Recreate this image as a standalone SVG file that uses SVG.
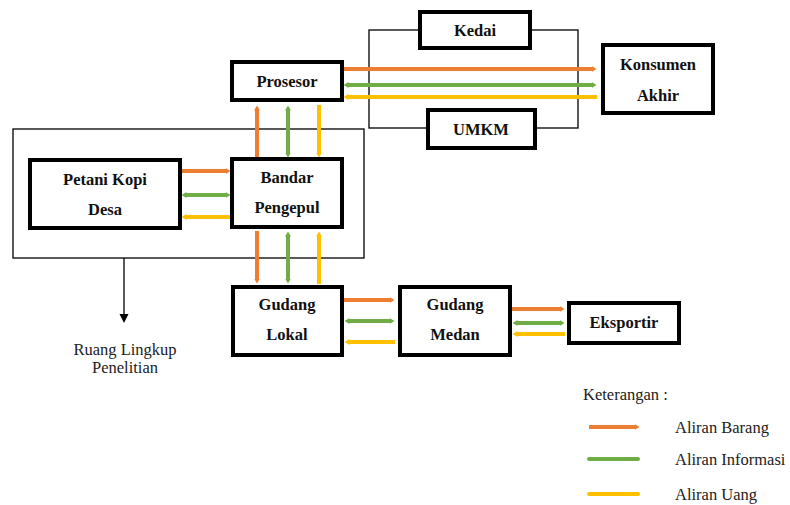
<svg xmlns="http://www.w3.org/2000/svg" width="790" height="505" viewBox="0 0 790 505">
<style>
.box{fill:#fff;stroke:#000;stroke-width:4}
.lbl{font-family:"Liberation Serif","Times New Roman",serif;font-weight:bold;font-size:16.5px;text-anchor:middle;fill:#111}
.txt{font-family:"Liberation Serif","Times New Roman",serif;font-size:16.5px;fill:#222}
.o{stroke:#ED7D31;stroke-width:4;fill:none}
.g{stroke:#70AD47;stroke-width:4;fill:none}
.y{stroke:#FFC000;stroke-width:4;fill:none}
.thin{fill:none;stroke:#000;stroke-width:1.3}
</style>
<defs>
<marker id="ao" markerUnits="userSpaceOnUse" markerWidth="6" markerHeight="6" refX="0.5" refY="3" orient="auto-start-reverse"><path d="M0,0 L5,3 L0,6 z" fill="#ED7D31"/></marker>
<marker id="ag" markerUnits="userSpaceOnUse" markerWidth="6" markerHeight="6" refX="0.5" refY="3" orient="auto-start-reverse"><path d="M0,0 L5,3 L0,6 z" fill="#70AD47"/></marker>
<marker id="ay" markerUnits="userSpaceOnUse" markerWidth="6" markerHeight="6" refX="0.5" refY="3" orient="auto-start-reverse"><path d="M0,0 L5,3 L0,6 z" fill="#FFC000"/></marker>
<marker id="ak" markerUnits="userSpaceOnUse" markerWidth="10" markerHeight="10" refX="1" refY="4.5" orient="auto"><path d="M0,0 L9,4.5 L0,9 z" fill="#000"/></marker>
</defs>

<g id="scope">
<rect class="thin" x="13" y="129" width="351" height="129"/>
<line class="thin" x1="124" y1="258" x2="124" y2="315" marker-end="url(#ak)"/>
<text class="txt" x="125" y="355" text-anchor="middle">Ruang Lingkup</text>
<text class="txt" x="125" y="373" text-anchor="middle">Penelitian</text>
</g>

<g id="bracket">
<rect class="thin" x="369" y="30" width="209" height="98" stroke-width="1.5"/>
</g>

<g id="connectors">
<line class="o" x1="343" y1="69" x2="592" y2="69" marker-end="url(#ao)"/>
<line class="g" x1="348" y1="85" x2="592" y2="85" marker-start="url(#ag)" marker-end="url(#ag)"/>
<line class="y" x1="348" y1="97" x2="597" y2="97" marker-start="url(#ay)"/>

<line class="o" x1="181" y1="171" x2="226" y2="171" marker-end="url(#ao)"/>
<line class="g" x1="186" y1="195" x2="226" y2="195" marker-start="url(#ag)" marker-end="url(#ag)"/>
<line class="y" x1="186" y1="217" x2="231" y2="217" marker-start="url(#ay)"/>

<line class="o" x1="257" y1="158" x2="257" y2="110" marker-end="url(#ao)"/>
<line class="g" x1="288" y1="110" x2="288" y2="153" marker-start="url(#ag)" marker-end="url(#ag)"/>
<line class="y" x1="319" y1="105" x2="319" y2="153" marker-end="url(#ay)"/>

<line class="o" x1="257" y1="231" x2="257" y2="279" marker-end="url(#ao)"/>
<line class="g" x1="288" y1="236" x2="288" y2="279" marker-start="url(#ag)" marker-end="url(#ag)"/>
<line class="y" x1="319" y1="284" x2="319" y2="236" marker-end="url(#ay)"/>

<line class="o" x1="344" y1="300" x2="390" y2="300" marker-end="url(#ao)"/>
<line class="g" x1="349" y1="321" x2="390" y2="321" marker-start="url(#ag)" marker-end="url(#ag)"/>
<line class="y" x1="349" y1="342" x2="395" y2="342" marker-start="url(#ay)"/>

<line class="o" x1="512" y1="309" x2="560" y2="309" marker-end="url(#ao)"/>
<line class="g" x1="517" y1="323" x2="560" y2="323" marker-start="url(#ag)" marker-end="url(#ag)"/>
<line class="y" x1="517" y1="334" x2="565" y2="334" marker-start="url(#ay)"/>
</g>

<g id="kedai"><rect class="box" x="420" y="12" width="110" height="36"/><text class="lbl" x="475" y="36">Kedai</text></g>
<g id="umkm"><rect class="box" x="428" y="110" width="107" height="38"/><text class="lbl" x="481" y="135">UMKM</text></g>
<g id="prosesor"><rect class="box" x="232" y="62" width="110" height="38"/><text class="lbl" x="287" y="87">Prosesor</text></g>
<g id="konsumen"><rect class="box" x="603" y="45" width="110" height="68"/><text class="lbl" x="658" y="70">Konsumen</text><text class="lbl" x="658" y="101">Akhir</text></g>
<g id="petani"><rect class="box" x="30" y="160" width="150" height="68"/><text class="lbl" x="105" y="185">Petani Kopi</text><text class="lbl" x="105" y="215">Desa</text></g>
<g id="bandar"><rect class="box" x="232" y="159" width="110" height="68"/><text class="lbl" x="287" y="183">Bandar</text><text class="lbl" x="287" y="213">Pengepul</text></g>
<g id="gudang-lokal"><rect class="box" x="233" y="287" width="109" height="68"/><text class="lbl" x="287" y="310">Gudang</text><text class="lbl" x="287" y="340">Lokal</text></g>
<g id="gudang-medan"><rect class="box" x="400" y="287" width="110" height="68"/><text class="lbl" x="455" y="310">Gudang</text><text class="lbl" x="455" y="340">Medan</text></g>
<g id="eksportir"><rect class="box" x="569" y="303" width="110" height="40"/><text class="lbl" x="624" y="328">Eksportir</text></g>

<g id="legend">
<text class="txt" x="583" y="400">Keterangan :</text>
<line class="o" x1="589" y1="427" x2="635" y2="427" marker-end="url(#ao)"/>
<line class="g" x1="589" y1="459" x2="638" y2="459" stroke-linecap="round"/>
<line class="y" x1="589" y1="494" x2="638" y2="494" stroke-linecap="round"/>
<text class="txt" x="675" y="433">Aliran Barang</text>
<text class="txt" x="675" y="465">Aliran Informasi</text>
<text class="txt" x="675" y="500">Aliran Uang</text>
</g>
</svg>
